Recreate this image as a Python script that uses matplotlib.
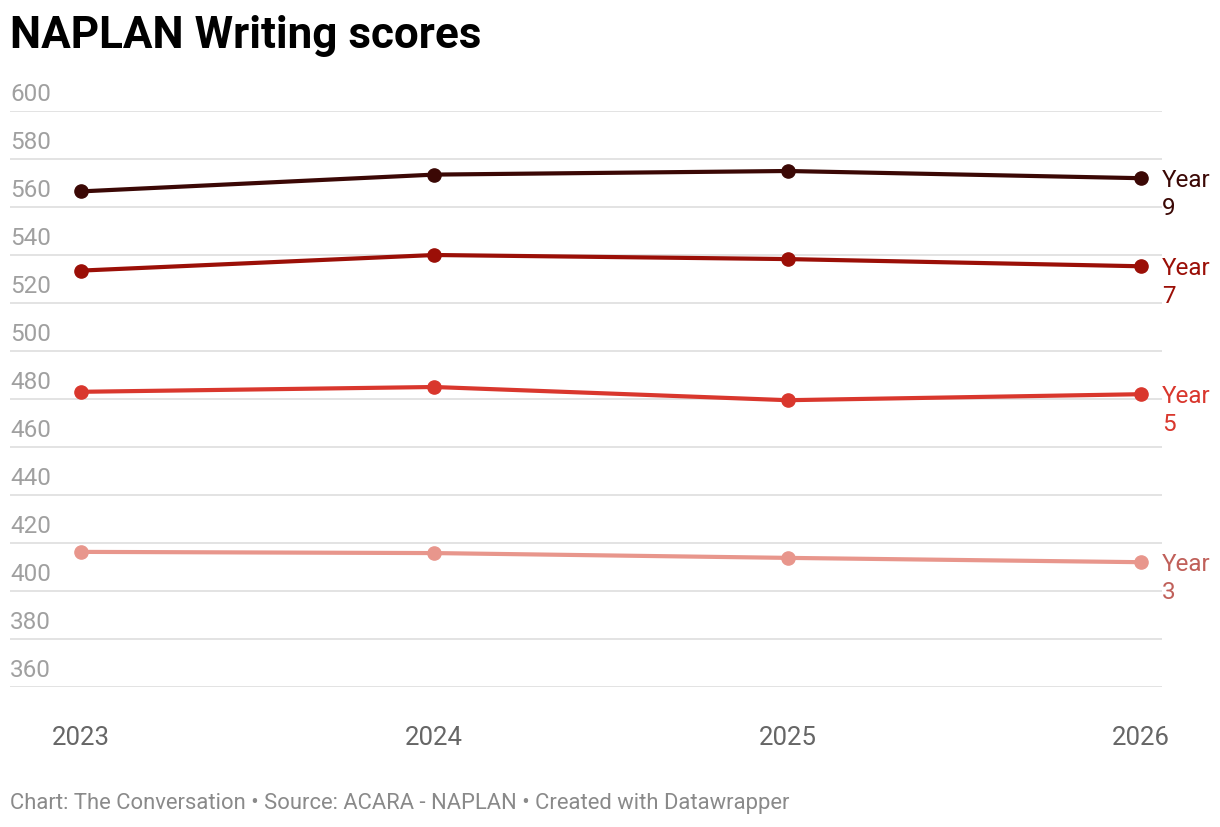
import matplotlib.pyplot as plt
from matplotlib.transforms import blended_transform_factory

plt.rcParams['font.family'] = ['Roboto', 'DejaVu Sans']

years = [2023, 2024, 2025, 2026]
year9 = [566.5, 573.5, 575, 572]
year7 = [533.5, 540, 538.3, 535.3]
year5 = [483, 485, 479.5, 482]
year3 = [416.3, 415.8, 413.8, 412]
series = [('9', year9, '#3b0805', '#3b0805'),
          ('7', year7, '#9b0f07', '#9b0f07'),
          ('5', year5, '#d9372d', '#d9372d'),
          ('3', year3, '#e8968c', '#c0605a')]
yticks = [360, 380, 400, 420, 440, 460, 480, 500, 520, 540, 560, 580, 600]

W, H = 1220, 828
fig = plt.figure(figsize=(W / 100, H / 100), dpi=100)
# axes spans the gridlines: 600 at y=112px, 360 at y=688px (2.4 px per unit)
ax = fig.add_axes([10 / W, 1 - 688 / H, 1152 / W, 576 / H])
ax.set_ylim(360, 600)
ax.set_xlim(2023 - 71 / 353.3, 2026 + 21 / 353.3)
for s in ax.spines.values():
    s.set_visible(False)
ax.set_xticks([])
ax.set_yticks([])
right = blended_transform_factory(ax.transAxes, ax.transData)

for t in yticks:
    ax.axhline(t, color='#e0e0e0', lw=1.3, zorder=0)
    ax.text(0, t + 7.1, str(t), transform=right,
            ha='left', va='center', fontsize=17.5, color='#a0a0a0')

for y in years:
    ax.text(y, 339.2, str(y), ha='center', va='center', fontsize=18.5, color='#666666')

for num, vals, col, tcol in series:
    ax.plot(years, vals, color=col, lw=3, marker='o', ms=9.5, clip_on=False, zorder=3)
    ax.text(1.0, vals[-1] - 0.4, 'Year', transform=right,
            ha='left', va='center', fontsize=17.5, color=tcol)
    ax.text(1.0, vals[-1] - 12.1, num, transform=right,
            ha='left', va='center', fontsize=17.5, color=tcol)

fig.text(10 / W, 1 - 36 / H, 'NAPLAN Writing scores', ha='left', va='center',
         fontsize=31.7, fontweight='bold', color='#000000')
fig.text(10 / W, 1 - 804 / H,
         'Chart: The Conversation \u2022 Source: ACARA - NAPLAN \u2022 Created with Datawrapper',
         ha='left', va='center', fontsize=15.8, color='#8a8a8a')

fig.savefig('out.png', dpi=100)
